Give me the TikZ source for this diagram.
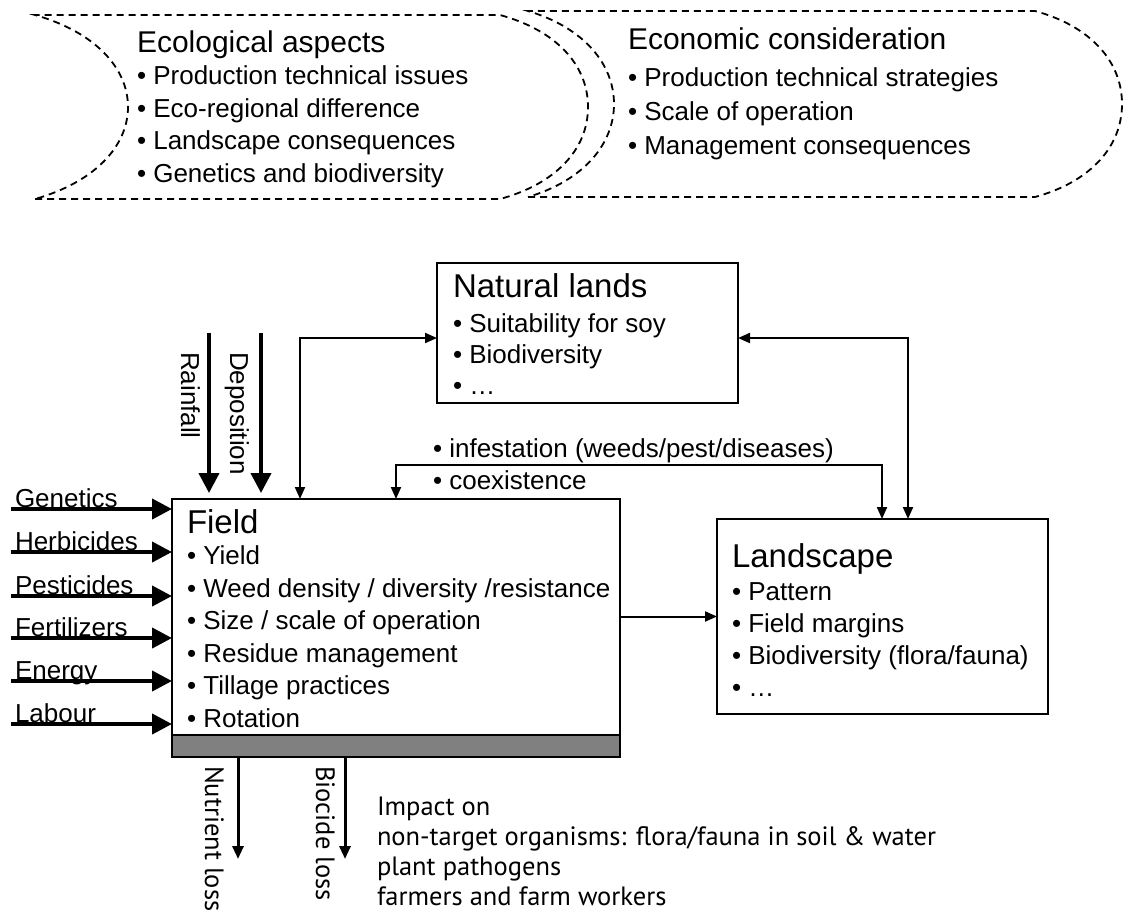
\documentclass[tikz,border=0pt]{standalone}
\usepackage{fontspec}
\setmainfont{Liberation Sans}
\newfontfamily\notefont{PT Sans}
\usetikzlibrary{arrows.meta}
\begin{document}
\begin{tikzpicture}[x=1pt,y=-1pt,
  every node/.style={inner sep=0pt, outer sep=0pt},
  ttl/.style={font=\fontsize{30}{36}\selectfont, anchor=base west},
  bttl/.style={font=\fontsize{33}{40}\selectfont, anchor=base west},
  itm/.style={font=\fontsize{26}{31}\selectfont, anchor=base west},
  note/.style={font=\notefont\fontsize{26.5}{31}\selectfont, anchor=base west},
  boxstyle/.style={draw, line width=1.8pt, anchor=north west},
  cloud/.style={draw, line width=1.8pt, dash pattern=on 7pt off 5pt},
  thinlink/.style={line width=2pt, {Triangle[length=12pt,width=10pt]}-{Triangle[length=12pt,width=10pt]}},
  thinone/.style={line width=2pt, -{Triangle[length=12pt,width=10pt]}},
  thickin/.style={line width=4pt, -{Triangle[length=20pt,width=20pt]}},
  outar/.style={line width=3pt, -{Triangle[length=13pt,width=11pt]}}
]
\fill[white] (0,0) rectangle (1127,911);
\useasboundingbox (0,0) rectangle (1127,911);

% top dashed shapes
\draw[cloud] (35,199) -- (500,199) .. controls (555,184) and (588,150) .. (588,107)
  .. controls (588,64) and (555,30) .. (500,15) -- (35,15)
  .. controls (95,32) and (128,68) .. (128,107) .. controls (128,146) and (95,182) .. (35,199);
\draw[cloud] (528,197) -- (1035,197) .. controls (1090,182) and (1122,147) .. (1122,104)
  .. controls (1122,61) and (1090,26) .. (1035,11) -- (528,11)
  .. controls (585,28) and (614,65) .. (614,104) .. controls (614,143) and (585,180) .. (528,197);

\node[ttl] (ecoT) at (137,52) {Ecological aspects};
\node[itm] (eco1) at (137,84) {• Production technical issues};
\node[itm] (eco2) at (137,117) {• Eco-regional difference};
\node[itm] (eco3) at (137,149) {• Landscape consequences};
\node[itm] (eco4) at (137,182) {• Genetics and biodiversity};

\node[ttl] (ecnT) at (628,49) {Economic consideration};
\node[itm] (ecn1) at (628,86) {• Production technical strategies};
\node[itm] (ecn2) at (628,120) {• Scale of operation};
\node[itm] (ecn3) at (628,154) {• Management consequences};

% boxes
\node[boxstyle, minimum width=301pt, minimum height=140pt] (natural) at (437,263) {};
\node[boxstyle, minimum width=448pt, minimum height=258pt] (field) at (172,499) {};
\node[boxstyle, minimum width=331pt, minimum height=195pt] (landscape) at (717,519) {};
\draw[line width=1.8pt, fill=gray] ([yshift=22pt]field.south west) rectangle (field.south east);

% natural lands text
\node[bttl] (natT) at (453,297) {Natural lands};
\node[itm] (nat1) at (453,332) {• Suitability for soy};
\node[itm] (nat2) at (453,363) {• Biodiversity};
\node[itm] (nat3) at (453,394) {• …};

% field text
\node[bttl] (fldT) at (187,533) {Field};
\node[itm] (fld1) at (187,564) {• Yield};
\node[itm] (fld2) at (187,597) {• Weed density / diversity /resistance};
\node[itm] (fld3) at (187,629) {• Size / scale of operation};
\node[itm] (fld4) at (187,662) {• Residue management};
\node[itm] (fld5) at (187,694) {• Tillage practices};
\node[itm] (fld6) at (187,727) {• Rotation};

% landscape text
\node[bttl] (lndT) at (732,567) {Landscape};
\node[itm] (lnd1) at (732,600) {• Pattern};
\node[itm] (lnd2) at (732,632) {• Field margins};
\node[itm] (lnd3) at (732,664) {• Biodiversity (flora/fauna)};
\node[itm] (lnd4) at (732,696) {• …};

% interaction links
\draw[thinlink] ([xshift=128pt]field.north west) |- ([yshift=-5pt]natural.west);
\draw[thinlink] ([yshift=-5pt]natural.east) -| ([xshift=191pt]landscape.north west);
\draw[thinlink] ([xshift=224pt]field.north west) -- ++(0,-34) -| ([xshift=165pt]landscape.north west);
\draw[thinone] (landscape.west -| field.east) -- (landscape.west);
\node[itm] (inf1) at (433,457) {• infestation (weeds/pest/diseases)};
\node[itm] (inf2) at (433,489) {• coexistence};

% inputs from the left
\foreach \yy/\tt in {509/Genetics, 552/Herbicides, 596/Pesticides, 638/Fertilizers, 681/Energy, 724/Labour}{
  \coordinate (in\tt) at (11,\yy);
  \draw[thickin] (in\tt) -- (in\tt -| field.west);
  \node[itm] (lab\tt) at (15,\yy-2) {\tt};
}

% inputs from above
\coordinate (rainTop) at (209,333);
\coordinate (depoTop) at (261,333);
\draw[thickin, shorten >=6pt] (rainTop) -- (rainTop |- field.north);
\draw[thickin, shorten >=6pt] (depoTop) -- (depoTop |- field.north);
\node[itm, rotate=-90] (rainL) at (181,352) {Rainfall};
\node[itm, rotate=-90] (depoL) at (230,352) {Deposition};

% outputs below
\coordinate (nutEnd) at (238,859);
\coordinate (bioEnd) at (345,859);
\draw[outar] (field.south -| nutEnd) -- (nutEnd);
\draw[outar] (field.south -| bioEnd) -- (bioEnd);
\node[note, rotate=-90] (nutL) at (205,766) {Nutrient loss};
\node[note, rotate=-90] (bioL) at (316,766) {Biocide loss};

\node[note] (imp1) at (377,815) {Impact on};
\node[note] (imp2) at (377,845) {non-target organisms: flora/fauna in soil \& water};
\node[note] (imp3) at (377,875) {plant pathogens};
\node[note] (imp4) at (377,905) {farmers and farm workers};
\end{tikzpicture}
\end{document}
